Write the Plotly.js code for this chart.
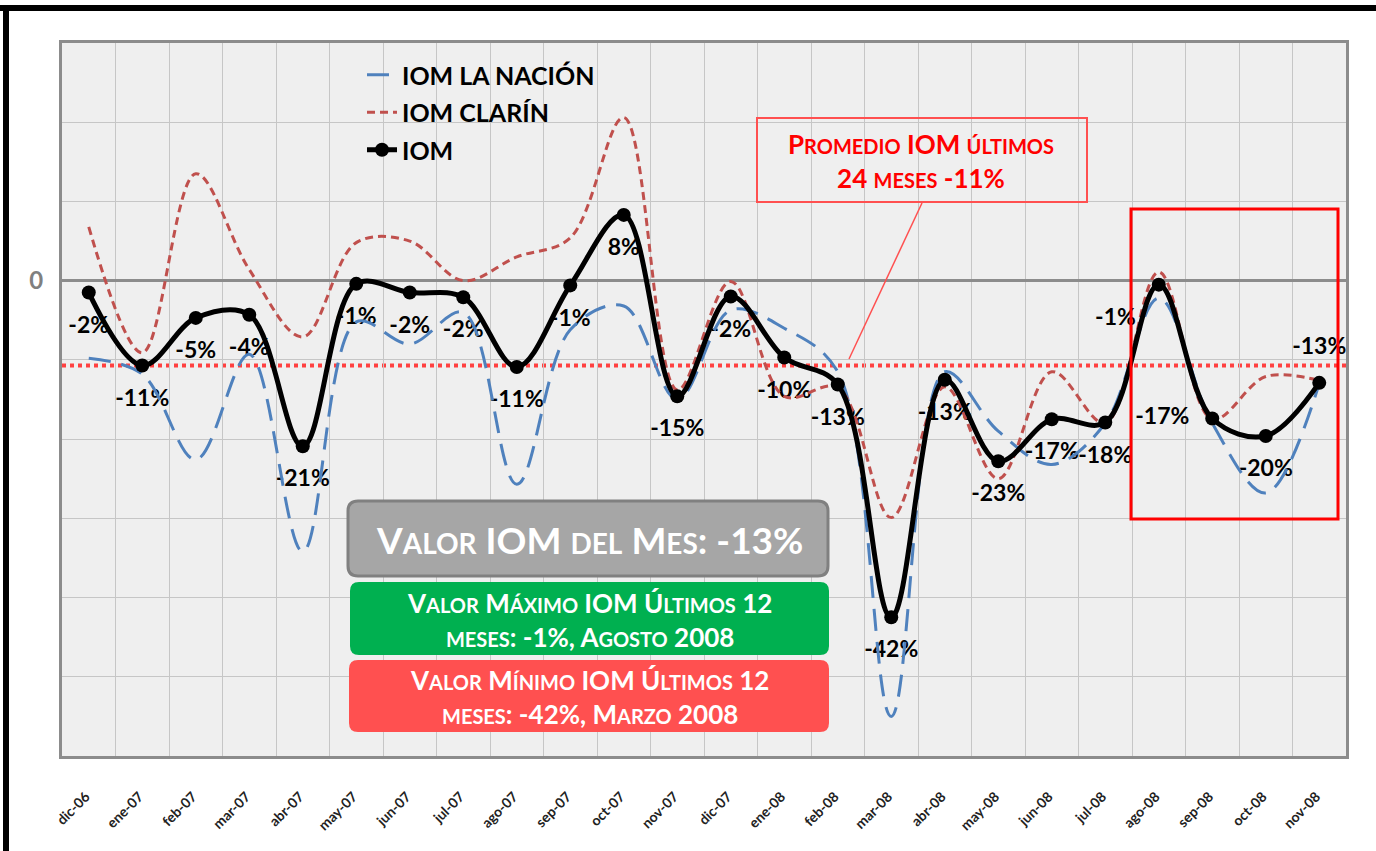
<!DOCTYPE html>
<html>
<head>
<meta charset="utf-8">
<script src="https://cdn.plot.ly/plotly-3.0.1.min.js"></script>
<style>
  html, body { margin: 0; padding: 0; background: #ffffff; }
  #chart { width: 1376px; height: 851px; }
</style>
</head>
<body>
<div id="chart"></div>
<script>
// ---------------- data ----------------
const months = ['dic-06','ene-07','feb-07','mar-07','abr-07','may-07','jun-07','jul-07','ago-07','sep-07','oct-07','nov-07',
                'dic-07','ene-08','feb-08','mar-08','abr-08','may-08','jun-08','jul-08','ago-08','sep-08','oct-08','nov-08'];

const iom = [-1.5,-10.7,-4.7,-4.3,-20.9,-0.4,-1.5,-2.1,-10.9,-0.6,8.3,-14.6,
             -2.0,-9.7,-13.1,-42.5,-12.5,-22.8,-17.5,-17.9,-0.5,-17.4,-19.6,-12.9];

const iomLabels = ['-2%','-11%','-5%','-4%','-21%','-1%','-2%','-2%','-11%','-1%','8%','-15%',
                   '-2%','-10%','-13%','-42%','-13%','-23%','-17%','-18%','-1%','-17%','-20%','-13%'];

const laNacion = [-9.8,-11.8,-22.6,-9.3,-34.2,-5.2,-8.0,-4.0,-25.7,-6.2,-3.2,-15.0,
                  -3.7,-6.0,-11.5,-55.0,-11.5,-19.0,-23.2,-18.0,-2.2,-18.0,-26.8,-13.0];

const clarin = [6.8,-9.1,13.5,1.4,-7.1,4.8,5.0,0.0,3.0,5.4,20.6,-13.8,
                -0.1,-14.6,-13.5,-29.9,-13.4,-25.0,-11.5,-18.0,1.1,-17.5,-12.1,-12.6];

const promedio24 = -10.7;
const yTickVals = [-60,-50,-40,-30,-20,-10,0,10,20,30];
const yTickText = ['','','','','','','0','','',''];

const labelPositions = ['bottom center','bottom center','bottom center','bottom center','bottom center','bottom center',
  'bottom center','bottom center','bottom center','bottom center','bottom center','bottom center',
  'bottom center','bottom center','bottom center','bottom center','bottom center','bottom center',
  'bottom center','bottom center','bottom left','middle left','bottom center','top center'];

// ---------------- helpers ----------------
const L = 62, R = 1346, T = 43, B = 756;
const px = x => (x - L) / (R - L);
const py = y => (B - y) / (B - T);

function rr(x0, y0, x1, y1, r) {
  return `M ${px(x0 + r)},${py(y0)} L ${px(x1 - r)},${py(y0)} Q ${px(x1)},${py(y0)} ${px(x1)},${py(y0 + r)} ` +
         `L ${px(x1)},${py(y1 - r)} Q ${px(x1)},${py(y1)} ${px(x1 - r)},${py(y1)} ` +
         `L ${px(x0 + r)},${py(y1)} Q ${px(x0)},${py(y1)} ${px(x0)},${py(y1 - r)} ` +
         `L ${px(x0)},${py(y0 + r)} Q ${px(x0)},${py(y0)} ${px(x0 + r)},${py(y0)} Z`;
}

function sc(str, small) {
  let out = '', buf = '', inSmall = false;
  const flush = () => {
    if (!buf) return;
    out += inSmall ? `<span style="font-size:${small}px">${buf}</span>` : buf;
    buf = '';
  };
  for (const ch of str) {
    const isLower = ch !== ch.toUpperCase();
    if (isLower !== inSmall) { flush(); inSmall = isLower; }
    buf += isLower ? ch.toUpperCase() : ch;
  }
  flush();
  return out;
}

const FONT = 'Lato, "Open Sans", sans-serif';

// ---------------- traces ----------------
const labelTrace = {
  x: months, y: iom, text: iomLabels,
  type: 'scatter', mode: 'markers+text',
  marker: { size: 35, opacity: 0, color: '#000' },
  textposition: labelPositions,
  textfont: { family: FONT, size: 23, color: '#000', weight: 'bold' },
  showlegend: false, hoverinfo: 'skip', cliponaxis: false
};

const tNacion = {
  x: months, y: laNacion, name: 'IOM LA NACIÓN', legendgroup: 'a',
  type: 'scatter', mode: 'lines',
  line: { color: '#4f81bd', width: 3, dash: '22px,11px', shape: 'spline', smoothing: 1 }
};
const tClarin = {
  x: months, y: clarin, name: 'IOM CLARÍN', legendgroup: 'b',
  type: 'scatter', mode: 'lines',
  line: { color: '#c0504d', width: 3, dash: '8px,5px', shape: 'spline', smoothing: 1 }
};
const tIom = {
  x: months, y: iom, name: 'IOM', legendgroup: 'c',
  type: 'scatter', mode: 'lines+markers',
  line: { color: '#000', width: 5, shape: 'spline', smoothing: 1 },
  marker: { color: '#000', size: 14 }
};

// ---------------- layout ----------------
const shapes = [
  { type: 'line', xref: 'paper', yref: 'y', x0: 0, x1: 1, y0: promedio24, y1: promedio24,
    line: { color: '#ff4040', width: 4, dash: 'dot' }, layer: 'between' },
  { type: 'line', xref: 'paper', yref: 'paper', x0: px(922), y0: py(203), x1: px(849), y1: py(359),
    line: { color: '#ff5050', width: 1.5 } },
  { type: 'rect', xref: 'paper', yref: 'paper', x0: px(757), y0: py(118), x1: px(1087), y1: py(202),
    line: { color: '#ff5050', width: 2 }, fillcolor: 'rgba(0,0,0,0)' },
  { type: 'rect', xref: 'paper', yref: 'paper', x0: px(1131), y0: py(209), x1: px(1338), y1: py(519),
    line: { color: '#ff0000', width: 3 }, fillcolor: 'rgba(0,0,0,0)' },
  { type: 'path', xref: 'paper', yref: 'paper', path: rr(348, 501, 828, 576, 10),
    fillcolor: '#a6a6a6', line: { color: '#808080', width: 3 } },
  { type: 'path', xref: 'paper', yref: 'paper', path: rr(350, 582, 829, 655, 9),
    fillcolor: '#00b050', line: { color: '#00b050', width: 0 } },
  { type: 'path', xref: 'paper', yref: 'paper', path: rr(349, 660, 829, 732, 9),
    fillcolor: '#ff5050', line: { color: '#ff5050', width: 0 } },
  { type: 'rect', xref: 'paper', yref: 'paper', x0: px(0), x1: px(1376), y0: py(11), y1: py(5),
    fillcolor: '#000', line: { width: 0 } },
  { type: 'rect', xref: 'paper', yref: 'paper', x0: px(3), x1: px(9), y0: py(851), y1: py(5),
    fillcolor: '#000', line: { width: 0 } }
];

const annotations = [
  { xref: 'paper', yref: 'paper', x: px(589), y: py(539), xanchor: 'center', yanchor: 'middle', showarrow: false,
    text: '<b>' + sc('Valor IOM del Mes: -13%', 28) + '</b>',
    font: { family: FONT, size: 37, color: '#ffffff' } },
  { xref: 'paper', yref: 'paper', x: px(589), y: py(620), xanchor: 'center', yanchor: 'middle', showarrow: false,
    text: '<b>' + sc('Valor Máximo IOM Últimos 12', 20) + '<br>' + sc('meses: -1%, Agosto 2008', 20) + '</b>',
    font: { family: FONT, size: 26, color: '#ffffff' } },
  { xref: 'paper', yref: 'paper', x: px(589), y: py(697), xanchor: 'center', yanchor: 'middle', showarrow: false,
    text: '<b>' + sc('Valor Mínimo IOM Últimos 12', 20) + '<br>' + sc('meses: -42%, Marzo 2008', 20) + '</b>',
    font: { family: FONT, size: 26, color: '#ffffff' } },
  { xref: 'paper', yref: 'paper', x: px(921), y: py(161), xanchor: 'center', yanchor: 'middle', showarrow: false,
    text: '<b>' + sc('Promedio IOM últimos', 20) + '<br>' + sc('24 meses -11%', 20) + '</b>',
    font: { family: FONT, size: 26, color: '#ff0000' } }
];

const layout = {
  width: 1376, height: 851,
  margin: { l: L, r: 1376 - R, t: T, b: 851 - B, pad: 0 },
  paper_bgcolor: '#ffffff',
  plot_bgcolor: '#efefef',
  showlegend: true,
  legend: {
    x: px(362), y: py(52), xanchor: 'left', yanchor: 'top',
    bgcolor: 'rgba(0,0,0,0)', borderwidth: 0,
    font: { family: FONT, size: 25, color: '#000', weight: 'bold' },
    tracegroupgap: 2, traceorder: 'grouped'
  },
  xaxis: {
    type: 'category', categoryorder: 'array', categoryarray: months,
    range: [-0.5, 23.5], autorange: false,
    tickson: 'boundaries', showgrid: true, gridcolor: '#c6c6c6', gridwidth: 1,
    ticks: '', tickangle: -45,
    tickfont: { family: FONT, size: 14, color: '#222', weight: 'bold' },
    ticklabelstandoff: 24, ticklabelshift: -3,
    showline: true, mirror: true, linecolor: '#8c8c8c', linewidth: 3,
    zeroline: false, fixedrange: true
  },
  yaxis: {
    range: [-60, 30], autorange: false, tickmode: 'array', tickvals: yTickVals, ticktext: yTickText,
    showgrid: true, gridcolor: '#c6c6c6', gridwidth: 1,
    zeroline: true, zerolinecolor: '#8c8c8c', zerolinewidth: 3,
    ticks: '', tickfont: { family: FONT, size: 24, color: '#808080', weight: 'bold' },
    ticklabelstandoff: 11,
    showline: true, mirror: true, linecolor: '#8c8c8c', linewidth: 3,
    fixedrange: true
  },
  shapes: shapes,
  annotations: annotations
};

Plotly.newPlot('chart', [labelTrace, tNacion, tClarin, tIom], layout, { displayModeBar: false, staticPlot: true });
</script>
</body>
</html>
